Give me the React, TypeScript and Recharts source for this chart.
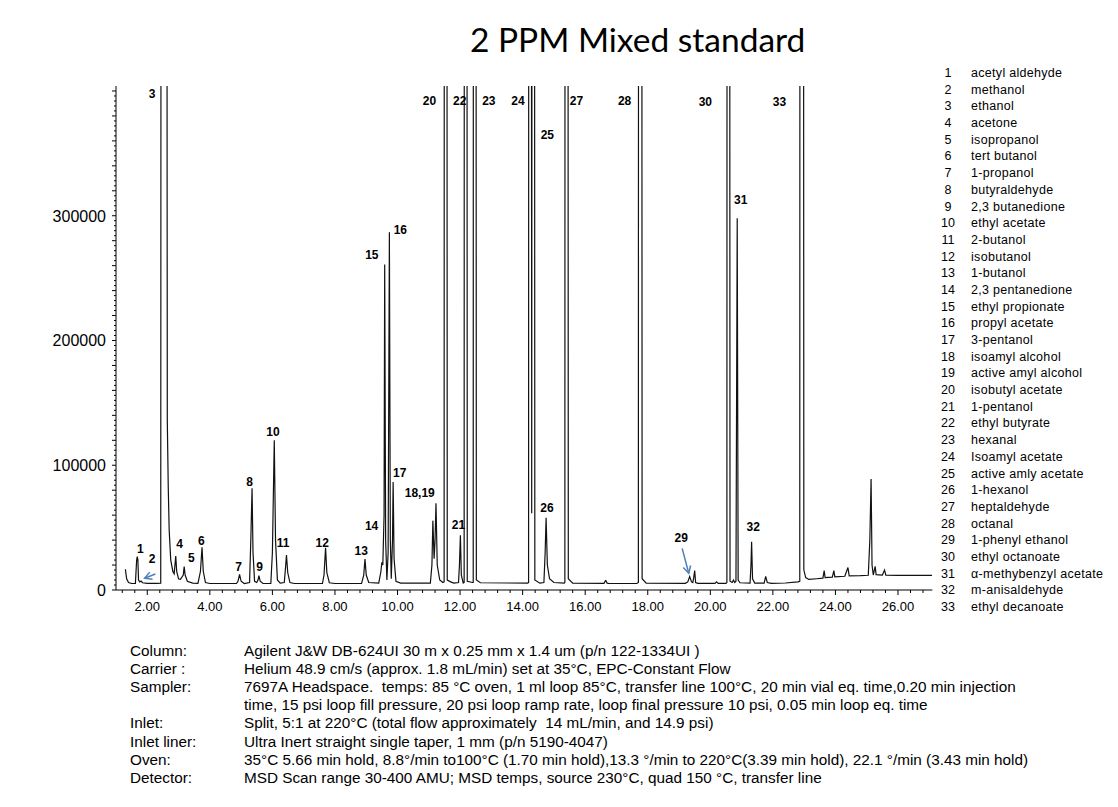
import { LineChart, Line, XAxis, YAxis, ReferenceDot, ReferenceLine } from 'recharts';

// retention time (min), abundance
const earlyTrace: [number, number][] = [
  [1.30, 16600], [1.34, 9000], [1.40, 6000], [1.50, 5200], [1.62, 5200], [1.66, 24000], [1.68, 26700],
  [1.70, 24000], [1.72, 8000], [1.76, 6500], [1.80, 7200], [1.85, 5800], [2.00, 5300], [2.30, 5300],
  [2.43, 5500], [2.45, 1200000], [2.61, 1200000], [2.64, 136000], [2.67, 82800], [2.70, 48100],
  [2.75, 24000], [2.82, 14700], [2.86, 13000], [2.91, 27300], [2.94, 15000], [3.00, 9000], [3.06, 8500],
  [3.15, 12000], [3.18, 18700], [3.21, 12000], [3.28, 7000], [3.45, 5500], [3.62, 5300], [3.70, 15000],
  [3.75, 34200], [3.79, 15000], [3.86, 6000], [4.00, 5200], [4.85, 5200], [4.90, 7000], [4.95, 12600],
  [5.00, 7000], [5.10, 5200], [5.27, 6000], [5.31, 40000], [5.35, 81600], [5.38, 30000], [5.43, 7000],
  [5.50, 6000], [5.54, 8000], [5.57, 11500], [5.61, 7000], [5.70, 5200], [5.95, 5300], [6.00, 30000],
  [6.06, 120000], [6.10, 40000], [6.16, 8000], [6.25, 5500], [6.38, 6000], [6.42, 18000], [6.45, 28100],
  [6.49, 14000], [6.56, 6000], [6.70, 5200], [7.60, 5200], [7.65, 12000], [7.70, 33900], [7.74, 14000],
  [7.82, 5800], [8.00, 5200],
];

const midTrace: [number, number][] = [
  [8.85, 5200], [8.92, 12000], [8.96, 24900], [9.00, 12000], [9.08, 6000], [9.40, 5500], [9.47, 15000],
  [9.50, 22200], [9.53, 20000], [9.57, 60000], [9.59, 260900], [9.62, 40000], [9.66, 8000], [9.70, 30000],
  [9.74, 286700], [9.77, 40000], [9.80, 9000], [9.84, 40000], [9.86, 86600], [9.89, 25000], [9.95, 7000],
  [10.10, 5500], [11.05, 5500], [11.10, 20000], [11.13, 55600], [11.17, 25000], [11.20, 40000],
  [11.23, 69500], [11.27, 20000], [11.35, 8000], [11.45, 6000], [11.49, 6500], [11.50, 1200000],
  [11.57, 1200000], [11.59, 8000], [11.70, 6500], [11.80, 5500], [11.95, 6000], [11.98, 20000],
  [12.01, 43900], [12.04, 12000], [12.10, 5500], [12.13, 6000], [12.14, 1200000], [12.21, 1200000],
  [12.23, 7000], [12.40, 6000], [12.42, 6000], [12.43, 1200000], [12.50, 1200000], [12.52, 8000],
  [12.65, 5800], [14.15, 5500], [14.19, 6000], [14.20, 1200000], [14.27, 1200000], [14.29, 61500],
  [14.31, 1200000], [14.37, 1200000], [14.39, 8000], [14.55, 5500], [14.68, 6000], [14.72, 30000],
  [14.75, 58000], [14.79, 20000], [14.86, 9000], [15.00, 6000], [15.33, 5500], [15.35, 6000],
  [15.36, 1200000], [15.44, 1200000], [15.46, 9000], [15.60, 5500], [16.60, 5300], [16.65, 7500],
  [16.67, 7200], [16.70, 5500], [16.75, 5300],
];

const lateTrace: [number, number][] = [
  [17.65, 5200], [17.70, 6000], [17.71, 1200000], [17.80, 1200000], [17.82, 9000], [17.95, 5500],
  [19.20, 5300], [19.28, 6500], [19.34, 10700], [19.40, 6500], [19.44, 6000], [19.47, 10000],
  [19.50, 15500], [19.53, 6000], [19.60, 5300], [20.15, 5300], [20.20, 6500], [20.25, 5300],
  [20.50, 5300], [20.53, 6000], [20.54, 1200000], [20.61, 1200000], [20.63, 7000], [20.70, 6000],
  [20.74, 8000], [20.78, 6000], [20.82, 7000], [20.86, 297900], [20.89, 8000], [20.95, 5800],
  [21.27, 5500], [21.30, 20000], [21.32, 38700], [21.35, 9000], [21.42, 5500], [21.72, 5500],
  [21.77, 11000], [21.82, 6000], [21.95, 5300], [22.40, 5600], [22.80, 6500], [22.86, 7000],
  [22.87, 1200000], [22.97, 1200000], [22.99, 16000], [23.05, 10000], [23.15, 8500], [23.40, 9000],
  [23.60, 9500], [23.64, 15500], [23.67, 10000], [23.90, 10300], [23.95, 15500], [23.98, 10600],
  [24.30, 11000], [24.40, 18000], [24.44, 11300], [24.80, 11500], [25.05, 11800], [25.10, 40000],
  [25.14, 89000], [25.17, 20000], [25.21, 12000], [25.27, 19000], [25.30, 12300], [25.50, 12000],
  [25.57, 16000], [25.61, 11900], [26.00, 11800], [26.50, 11800], [27.09, 11800],
];

const trace = [...earlyTrace, ...midTrace, ...lateTrace].map(([t, v]) => ({ t, v }));

// peak numbers, placed in data coordinates
const peakLabels: { text: string; t: number; v: number }[] = [
  { text: '1', t: 1.78, v: 32900 }, { text: '2', t: 2.15, v: 24800 }, { text: '3', t: 2.15, v: 398000 },
  { text: '4', t: 3.03, v: 36900 }, { text: '5', t: 3.41, v: 25700 }, { text: '6', t: 3.73, v: 39300 },
  { text: '7', t: 4.92, v: 18700 }, { text: '8', t: 5.27, v: 86400 }, { text: '9', t: 5.59, v: 18700 },
  { text: '10', t: 6.02, v: 127000 }, { text: '11', t: 6.34, v: 37500 }, { text: '12', t: 7.59, v: 37900 },
  { text: '13', t: 8.84, v: 31500 }, { text: '14', t: 9.17, v: 51900 }, { text: '15', t: 9.18, v: 268400 },
  { text: '16', t: 10.09, v: 288700 }, { text: '17', t: 10.07, v: 93600 }, { text: '18,19', t: 10.71, v: 78000 },
  { text: '20', t: 11.02, v: 392200 }, { text: '21', t: 11.95, v: 52700 }, { text: '22', t: 11.99, v: 392200 },
  { text: '23', t: 12.92, v: 392200 }, { text: '24', t: 13.85, v: 392200 }, { text: '25', t: 14.79, v: 364900 },
  { text: '26', t: 14.78, v: 66000 }, { text: '27', t: 15.72, v: 392200 }, { text: '28', t: 17.26, v: 392200 },
  { text: '29', t: 19.07, v: 41500 }, { text: '30', t: 19.84, v: 391100 }, { text: '31', t: 20.97, v: 313200 },
  { text: '32', t: 21.37, v: 50800 }, { text: '33', t: 22.21, v: 391700 },
];

const arrows = [
  { from: { t: 2.26, v: 12800 }, to: { t: 1.915, v: 9400 } },
  { from: { t: 19.10, v: 33400 }, to: { t: 19.31, v: 13400 } },
];

const xLabels = [2, 4, 6, 8, 10, 12, 14, 16, 18, 20, 22, 24, 26];
const yLabels = [0, 100000, 200000, 300000];

const compounds = [
  'acetyl aldehyde', 'methanol', 'ethanol', 'acetone', 'isopropanol', 'tert butanol', '1-propanol',
  'butyraldehyde', '2,3 butanedione', 'ethyl acetate', '2-butanol', 'isobutanol', '1-butanol',
  '2,3 pentanedione', 'ethyl propionate', 'propyl acetate', '3-pentanol', 'isoamyl alcohol',
  'active amyl alcohol', 'isobutyl acetate', '1-pentanol', 'ethyl butyrate', 'hexanal', 'Isoamyl acetate',
  'active amly acetate', '1-hexanol', 'heptaldehyde', 'octanal', '1-phenyl ethanol', 'ethyl octanoate',
  'α-methybenzyl acetate', 'm-anisaldehyde', 'ethyl decanoate',
];

const methodKeys = ['Column:', 'Carrier :', 'Sampler:', '', 'Inlet:', 'Inlet liner:', 'Oven:', 'Detector:'];
const methodValues = [
  'Agilent J&W DB-624UI 30 m x 0.25 mm x 1.4 um (p/n 122-1334UI )',
  'Helium 48.9 cm/s (approx. 1.8 mL/min) set at 35°C, EPC-Constant Flow',
  '7697A Headspace.  temps: 85 °C oven, 1 ml loop 85°C, transfer line 100°C, 20 min vial eq. time,0.20 min injection',
  'time, 15 psi loop fill pressure, 20 psi loop ramp rate, loop final pressure 10 psi, 0.05 min loop eq. time',
  'Split, 5:1 at 220°C (total flow approximately  14 mL/min, and 14.9 psi)',
  'Ultra Inert straight single taper, 1 mm (p/n 5190-4047)',
  '35°C 5.66 min hold, 8.8°/min to100°C (1.70 min hold),13.3 °/min to 220°C(3.39 min hold), 22.1 °/min (3.43 min hold)',
  'MSD Scan range 30-400 AMU; MSD temps, source 230°C, quad 150 °C, transfer line',
];

const xTicks: number[] = [];
for (let i = 3; i <= 67; i++) xTicks.push(Math.round(i * 0.4 * 10) / 10);
const yTicks: number[] = [];
for (let v = 0; v <= 400000; v += 4000) yTicks.push(v);

const FONT = '"Liberation Sans", Arial, sans-serif';

function XTick({ x, y, payload }: any) {
  const v = payload.value as number;
  const major = xLabels.includes(v);
  return (
    <g>
      <line x1={x} y1={y} x2={x} y2={y + (major ? 5 : 3)} stroke="#000" />
      {major && (
        <text x={x} y={y + 21} textAnchor="middle" fontSize={13} fill="#000">
          {v.toFixed(2)}
        </text>
      )}
    </g>
  );
}

function YTick({ x, y, payload }: any) {
  const v = payload.value as number;
  const len = v % 20000 === 0 ? 4 : 2;
  return (
    <g>
      <line x1={x} y1={y} x2={x - len} y2={y} stroke="#000" />
      {yLabels.includes(v) && (
        <text x={x - 10} y={y + 6} textAnchor="end" fontSize={16} fill="#000">
          {v}
        </text>
      )}
    </g>
  );
}

function Arrow({ x1, y1, x2, y2 }: any) {
  const a = Math.atan2(y2 - y1, x2 - x1);
  const h = 8;
  const p1 = [x2 - h * Math.cos(a - 0.5), y2 - h * Math.sin(a - 0.5)];
  const p2 = [x2 - h * Math.cos(a + 0.5), y2 - h * Math.sin(a + 0.5)];
  return (
    <g stroke="#4f81bd" strokeWidth={1.5} fill="none">
      <line x1={x1} y1={y1} x2={x2} y2={y2} />
      <polyline points={`${p1[0]},${p1[1]} ${x2},${y2} ${p2[0]},${p2[1]}`} />
    </g>
  );
}

export default function App() {
  return (
    <div
      style={{
        position: 'absolute', left: 0, top: 0, width: 1118, height: 807,
        overflow: 'hidden', background: '#fff', fontFamily: FONT, color: '#000',
      }}
    >
      <LineChart
        width={1118}
        height={807}
        data={trace}
        margin={{ top: 86, right: 185.6, bottom: 187, left: 36 }}
      >
        <XAxis
          type="number"
          dataKey="t"
          domain={[1.0, 27.1]}
          allowDataOverflow
          ticks={xTicks}
          interval={0}
          tickSize={0}
          tickMargin={0}
          tickLine={false}
          tick={<XTick />}
          height={30}
          axisLine={{ stroke: '#000' }}
        />
        <YAxis
          type="number"
          domain={[0, 404000]}
          allowDataOverflow
          ticks={yTicks}
          interval={0}
          tickSize={0}
          tickMargin={0}
          tickLine={false}
          tick={<YTick />}
          width={80}
          axisLine={{ stroke: '#000' }}
        />
        <Line
          type="linear"
          dataKey="v"
          stroke="#111"
          strokeWidth={1.2}
          dot={false}
          activeDot={false}
          isAnimationActive={false}
        />
        {peakLabels.map((p) => (
          <ReferenceDot
            key={p.text}
            x={p.t}
            y={p.v}
            r={0}
            fill="none"
            stroke="none"
            label={{ value: p.text, position: 'center', fontSize: 12, fontWeight: 700, fill: '#000' }}
          />
        ))}
        {arrows.map((a, i) => (
          <ReferenceLine
            key={i}
            segment={[{ x: a.from.t, y: a.from.v }, { x: a.to.t, y: a.to.v }]}
            shape={<Arrow />}
          />
        ))}
      </LineChart>

      <div
        style={{
          position: 'absolute', left: 470, top: 17, fontFamily: 'Lato, "Open Sans", sans-serif',
          fontSize: 33.5, lineHeight: '44px', whiteSpace: 'pre',
        }}
      >
        2 PPM Mixed standard
      </div>

      {compounds.map((c, i) => (
        <div
          key={c}
          style={{ position: 'absolute', top: 73 + i * 16.69 - 8, height: 16, lineHeight: '16px', fontSize: 12.5, whiteSpace: 'pre' }}
        >
          <span style={{ position: 'absolute', left: 933, width: 30, textAlign: 'center' }}>{i + 1}</span>
          <span style={{ position: 'absolute', left: 971, letterSpacing: 0.3 }}>{c}</span>
        </div>
      ))}

      {methodValues.map((m, i) => (
        <div
          key={i}
          style={{ position: 'absolute', top: 651 + i * 18.1 - 9, height: 18, lineHeight: '18px', fontSize: 15.3, whiteSpace: 'pre' }}
        >
          <span style={{ position: 'absolute', left: 130 }}>{methodKeys[i]}</span>
          <span style={{ position: 'absolute', left: 244 }}>{m}</span>
        </div>
      ))}
    </div>
  );
}
